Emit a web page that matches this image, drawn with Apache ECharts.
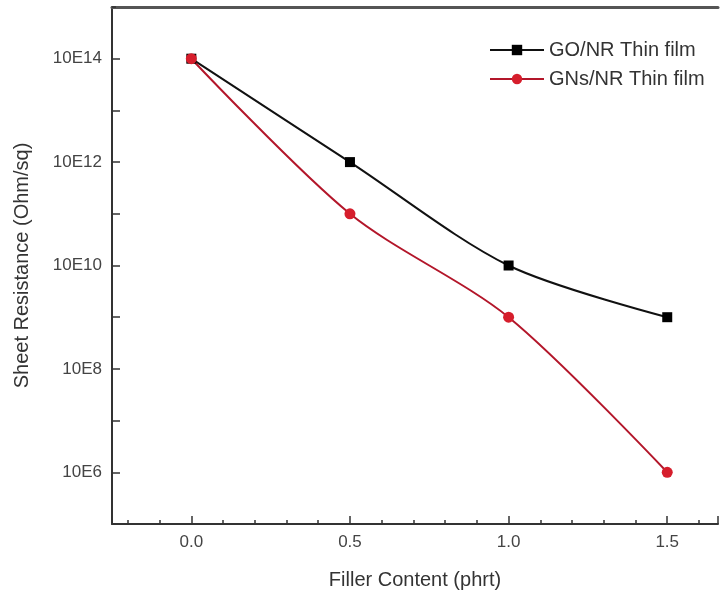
<!DOCTYPE html>
<html>
<head>
<meta charset="utf-8">
<script src="https://cdn.jsdelivr.net/npm/echarts@6/dist/echarts.min.js"></script>
<style>html,body{margin:0;padding:0;background:#fff}#c{width:721px;height:600px}</style>
</head>
<body>
<div id="c"></div>
<script>
const fillerContent = [0.0, 0.5, 1.0, 1.5];
const goNR = [1e14, 1e12, 1e10, 1e9];
const gnsNR = [1e14, 1e11, 1e9, 1e6];
const seriesNames = ['GO/NR Thin film', 'GNs/NR Thin film'];

const FONT = '"Liberation Sans", Arial, sans-serif';
const axisColor = '#333';
const chart = echarts.init(document.getElementById('c'));

function pairs(ys) { return fillerContent.map((x, i) => [x, ys[i]]); }
function isHalf(v) { return Math.abs(v * 2 - Math.round(v * 2)) < 1e-6 && v > -0.01 && v < 1.6; }

const xMin = -0.25, xMax = 1.66, yMin = 1e5, yMax = 1e15;

chart.setOption({
  animation: false,
  grid: { left: 112, top: 7, right: 1, bottom: 76 },
  legend: {
    left: 484, top: 35, orient: 'vertical', itemWidth: 54, itemHeight: 13, itemGap: 9,
    textStyle: { fontFamily: FONT, fontSize: 20, color: '#333' },
    data: seriesNames
  },
  xAxis: [
    {
      type: 'value', min: xMin, max: xMax, splitNumber: 19, position: 'bottom',
      name: 'Filler Content (phrt)', nameLocation: 'middle', nameGap: 46,
      nameTextStyle: { fontFamily: FONT, fontSize: 20, color: '#333' },
      axisLine: { onZero: false, lineStyle: { color: axisColor, width: 2 } },
      axisTick: { inside: true, length: 4, lineStyle: { color: axisColor, width: 1.5 } },
      axisLabel: { show: false },
      splitLine: { show: false }
    },
    {
      type: 'value', min: xMin, max: xMax, splitNumber: 4, position: 'bottom',
      axisLine: { show: false, onZero: false },
      axisTick: { inside: true, length: 8, lineStyle: { color: axisColor, width: 1.5 } },
      axisLabel: {
        margin: 10, fontFamily: FONT, fontSize: 17, color: '#444',
        formatter: v => isHalf(v) ? v.toFixed(1) : ''
      },
      splitLine: { show: false }
    },
    {
      type: 'value', min: xMin, max: xMax, position: 'top',
      axisLine: { onZero: false, lineStyle: { color: '#555', width: 3 } },
      axisTick: { show: false }, axisLabel: { show: false }, splitLine: { show: false }
    }
  ],
  yAxis: [
    {
      type: 'log', logBase: 10, min: yMin, max: yMax, splitNumber: 10, position: 'left',
      name: 'Sheet Resistance (Ohm/sq)', nameLocation: 'middle', nameGap: 80,
      nameTextStyle: { fontFamily: FONT, fontSize: 20, color: '#333' },
      axisLine: { onZero: false, lineStyle: { color: axisColor, width: 2 } },
      axisTick: { inside: true, length: 4, lineStyle: { color: axisColor, width: 1.5 } },
      axisLabel: { show: false },
      splitLine: { show: false }
    },
    {
      type: 'log', logBase: 10, min: yMin, max: yMax, splitNumber: 5, position: 'left',
      axisLine: { show: false, onZero: false },
      axisTick: { inside: true, length: 8, lineStyle: { color: axisColor, width: 1.5 } },
      axisLabel: {
        margin: 10, fontFamily: FONT, fontSize: 17, color: '#444',
        showMinLabel: false, showMaxLabel: false,
        formatter: v => { const e = Math.round(Math.log10(v)); return (e % 2 === 0 && e > 5 && e < 15) ? '10E' + e : ''; }
      },
      splitLine: { show: false }
    }
  ],
  series: [
    {
      name: seriesNames[0], type: 'line', smooth: 0.3, xAxisIndex: 0, yAxisIndex: 0,
      data: pairs(goNR), symbol: 'rect', symbolSize: 10,
      lineStyle: { color: '#111', width: 2 }, itemStyle: { color: '#000' }
    },
    {
      name: seriesNames[1], type: 'line', smooth: 0.3, xAxisIndex: 0, yAxisIndex: 0,
      data: pairs(gnsNR), symbol: 'circle', symbolSize: 11,
      lineStyle: { color: '#b3162a', width: 2 }, itemStyle: { color: '#d61e2c' }
    }
  ]
});
</script>
</body>
</html>
